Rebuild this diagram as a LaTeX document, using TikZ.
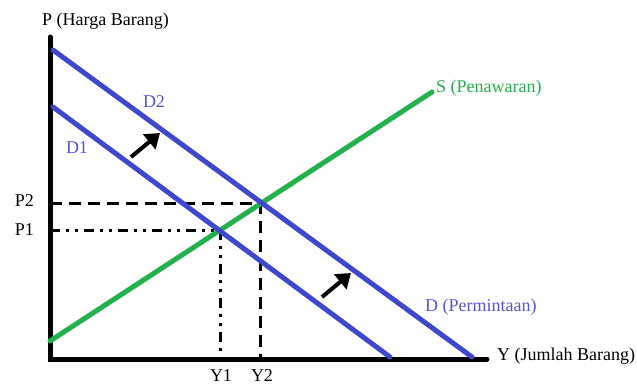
\documentclass[tikz,border=0pt]{standalone}
\usepackage{fontspec}
\setmainfont{Liberation Serif}
\usetikzlibrary{arrows.meta}
\definecolor{dblue}{RGB}{63,72,204}
\definecolor{tblue}{RGB}{84,84,214}
\definecolor{sgreen}{RGB}{34,177,76}
\begin{document}
\begin{tikzpicture}[x=1pt,y=-1pt,
  axis/.style={line width=5pt,line cap=round},
  curveline/.style={line width=5pt,line cap=round},
  lbl/.style={inner sep=0pt,font=\fontsize{18}{20}\selectfont},
  dashA/.style={line width=3pt,dash pattern=on 12pt off 7pt},
  dashB/.style={line width=3pt,dash pattern=on 10pt off 6pt on 3pt off 6pt on 3pt off 6pt},
  shiftarrow/.style={line width=4pt,-{Triangle[length=14pt,width=19pt]}}]
\useasboundingbox (0,0) rectangle (637,385);
% axes
\coordinate (ytop) at (50,37);
\coordinate (origin) at (50,359);
\coordinate (xend) at (487,359);
\draw[axis] (ytop) -- (origin) -- (xend);
% curves
\coordinate (d2a) at (53,50);
\coordinate (d2b) at (472,357);
\coordinate (d1a) at (53,107);
\coordinate (d1b) at (390,357);
\coordinate (sa) at (50,341);
\coordinate (sb) at (432,92);
\coordinate (e1) at (220,230);
\coordinate (e2) at (260,203);
\coordinate (p1) at (50,230);
\coordinate (p2) at (50,203);
\coordinate (y1) at (220,359);
\coordinate (y2) at (260,359);
% dashed guides
\draw[dashA] (p2) -- (e2) -- (y2);
\draw[dashB] (p1) -- (e1) -- (y1);
\draw[curveline,sgreen] (sa) -- (sb);
\draw[curveline,dblue] (d2a) -- (d2b);
\draw[curveline,dblue] (d1a) -- (d1b);
% shift arrows
\coordinate (a1s) at (131,157);
\coordinate (a1e) at (160,133);
\coordinate (a2s) at (322,297);
\coordinate (a2e) at (351,273);
\draw[shiftarrow] (a1s) -- (a1e);
\draw[shiftarrow] (a2s) -- (a2e);
% labels
\node[lbl,anchor=west] (plabel) at (42,21) {P (Harga Barang)};
\node[lbl,anchor=west] (ylabel) at (497,356) {Y (Jumlah Barang)};
\node[lbl,anchor=west,text=sgreen] (slabel) at (436,88) {S (Penawaran)};
\node[lbl,anchor=west,text=tblue] (dlabel) at (425,307) {D (Permintaan)};
\node[lbl,text=tblue] (d2label) at (154,102) {D2};
\node[lbl,text=tblue] (d1label) at (77,148) {D1};
\node[lbl,anchor=east] (p2label) at (34,201) {P2};
\node[lbl,anchor=east] (p1label) at (34,230) {P1};
\node[lbl] (y1label) at (221,376) {Y1};
\node[lbl] (y2label) at (262,376) {Y2};
\end{tikzpicture}
\end{document}
